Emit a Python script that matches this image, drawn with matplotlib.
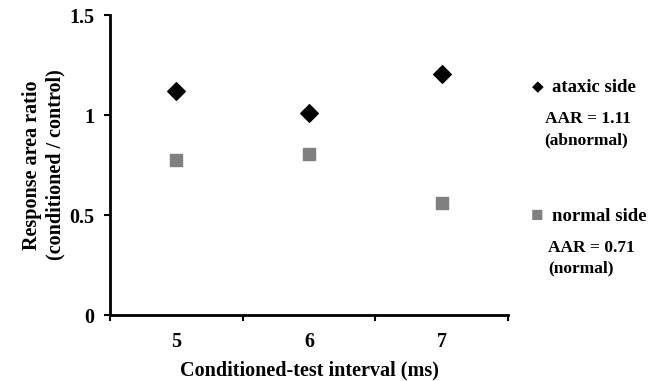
import matplotlib.pyplot as plt

plt.rcParams['font.family'] = ['Liberation Serif', 'DejaVu Serif']
plt.rcParams['font.weight'] = 'bold'

intervals = [5, 6, 7]
ataxic_side = [1.12, 1.01, 1.205]
normal_side = [0.775, 0.805, 0.56]

fig = plt.figure(figsize=(6.57, 3.81), dpi=100)
ax = fig.add_axes([0.1674, 0.1732, 0.6058, 0.7874])

ax.scatter(intervals, ataxic_side, marker='D', s=80, color='black', zorder=3)
ax.scatter(intervals, normal_side, marker='s', s=80, color='#808080', zorder=3)

ax.set_xlim(4.5, 7.5)
ax.set_ylim(0, 1.5)
ax.set_xticks([4.5, 5.5, 6.5, 7.5])
ax.set_xticklabels([])
ax.set_xticks(intervals, minor=True)
ax.set_xticklabels([str(v) for v in intervals], minor=True)
ax.tick_params(axis='x', which='minor', length=0, pad=12, labelsize=14.5)
ax.tick_params(axis='x', which='major', length=4, width=1.5, direction='out')
ax.set_yticks([0, 0.5, 1, 1.5])
ax.set_yticklabels(['0', '0.5', '1', '1.5'])
ax.tick_params(axis='y', length=4, width=1.5, direction='out', labelsize=14.5, pad=7)

for side in ['top', 'right']:
    ax.spines[side].set_visible(False)
for side in ['left', 'bottom']:
    ax.spines[side].set_linewidth(2)

ax.set_xlabel('Conditioned-test interval (ms)', fontsize=14.5, fontweight='bold', labelpad=6)
ax.set_ylabel('Response area ratio\n(conditioned / control)', fontsize=14.5,
              fontweight='bold', labelpad=3, linespacing=1.25)

# legend-like annotations at right
fig.text(538 / 657, 1 - 88 / 381, '\u25c6', fontsize=11, ha='center', va='center')
fig.text(552 / 657, 1 - 88 / 381, 'ataxic side', fontsize=13.5, va='center')
fig.text(545 / 657, 1 - 119 / 381, 'AAR = 1.11', fontsize=12.5, va='center')
fig.text(544 / 657, 1 - 140 / 381, '(abnormal)', fontsize=12.5, va='center')
fig.text(537 / 657, 1 - 216 / 381, '\u25a0', fontsize=15, ha='center', va='center',
         color='#808080')
fig.text(552 / 657, 1 - 217 / 381, 'normal side', fontsize=13.5, va='center')
fig.text(548 / 657, 1 - 248 / 381, 'AAR = 0.71', fontsize=12.5, va='center')
fig.text(548 / 657, 1 - 268 / 381, '(normal)', fontsize=12.5, va='center')

fig.savefig('out.png', dpi=100)
